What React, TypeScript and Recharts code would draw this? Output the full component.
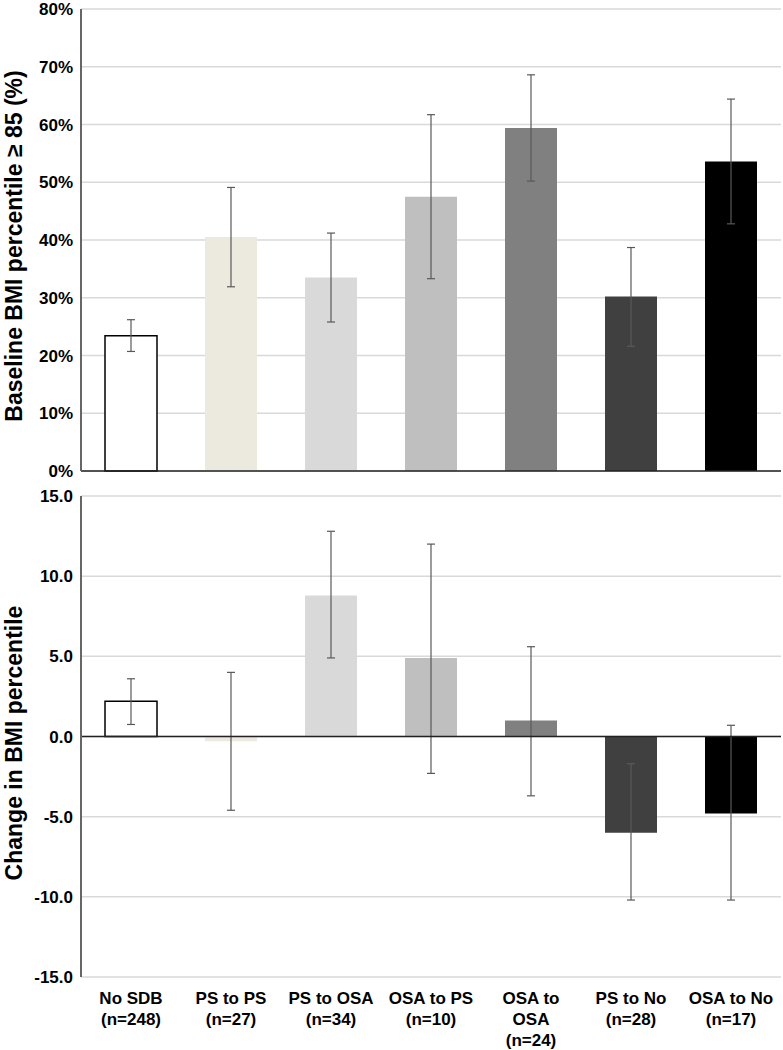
import React from "react";
import { BarChart, Bar, XAxis, YAxis, CartesianGrid, Cell, ErrorBar, ReferenceLine } from "recharts";

const categories = ["No SDB|(n=248)", "PS to PS|(n=27)", "PS to OSA|(n=34)", "OSA to PS|(n=10)", "OSA to|OSA|(n=24)", "PS to No|(n=28)", "OSA to No|(n=17)"];
const colors = ["#ffffff", "#eceadf", "#d9d9d9", "#bfbfbf", "#808080", "#404040", "#000000"];

const baselinePct = [23.4, 40.5, 33.5, 47.5, 59.4, 30.2, 53.6];
const baselineLow = [20.7, 31.9, 25.8, 33.3, 50.2, 21.6, 42.8];
const baselineHigh = [26.2, 49.1, 41.2, 61.7, 68.6, 38.7, 64.4];

const change = [2.2, -0.3, 8.8, 4.9, 1.0, -6.0, -4.8];
const changeLow = [0.75, -4.6, 4.9, -2.3, -3.7, -10.2, -10.2];
const changeHigh = [3.6, 4.0, 12.8, 12.0, 5.6, -1.7, 0.7];

const topTicks = [0, 10, 20, 30, 40, 50, 60, 70, 80];
const bottomTicks = [-15, -10, -5, 0, 5, 10, 15];

const topData = categories.map((name, i) => ({
  name,
  value: baselinePct[i],
  err: [baselinePct[i] - baselineLow[i], baselineHigh[i] - baselinePct[i]],
}));

const bottomData = categories.map((name, i) => ({
  name,
  value: change[i],
  err: [change[i] - changeLow[i], changeHigh[i] - change[i]],
}));

const FONT = "'Liberation Sans', Arial, sans-serif";

const CategoryTick = (props: any) => {
  const { x, y, payload } = props;
  const lines = String(payload.value).split("|");
  return (
    <text x={x} y={y + 19} textAnchor="middle" fontFamily={FONT} fontWeight="bold" fontSize={17} fill="#000">
      {lines.map((l, i) => (
        <tspan key={i} x={x} dy={i === 0 ? 0 : 21}>
          {l}
        </tspan>
      ))}
    </text>
  );
};

const AxisTitle = ({ y, text }: { y: number; text: string }) => (
  <text
    x={14}
    y={y}
    transform={`rotate(-90, 14, ${y})`}
    textAnchor="middle"
    dominantBaseline="central"
    fontFamily={FONT}
    fontWeight="bold"
    fontSize={23}
    fill="#000"
  >
    {text}
  </text>
);

const tickStyle = { fontFamily: FONT, fontWeight: "bold", fontSize: 17, fill: "#000" };

export default function App() {
  return (
    <div style={{ position: "absolute", left: 0, top: 0, width: 783, height: 1050, background: "#fff" }}>
      <div style={{ position: "absolute", left: 0, top: 0 }}>
        <BarChart width={783} height={480} data={topData} margin={{ top: 9, right: 2, bottom: 9, left: 0 }} barSize={52}>
          <CartesianGrid horizontal={true} vertical={false} stroke="#d9d9d9" strokeWidth={1.5} />
          <XAxis dataKey="name" hide />
          <YAxis
            width={81}
            domain={[0, 80]}
            ticks={topTicks}
            interval={0}
            tickFormatter={(v: number) => `${v}%`}
            tick={tickStyle}
            tickLine={false}
            axisLine={{ stroke: "#666", strokeWidth: 2 }}
          />
          <Bar dataKey="value" isAnimationActive={false}>
            {topData.map((_, i) => (
              <Cell key={i} fill={colors[i]} stroke={i === 0 ? "#000" : "none"} strokeWidth={1.5} />
            ))}
            <ErrorBar dataKey="err" width={4} stroke="#595959" strokeWidth={1.2} direction="y" />
          </Bar>
          <ReferenceLine y={0} stroke="#222" strokeWidth={1.5} />
        </BarChart>
      </div>
      <div style={{ position: "absolute", left: 0, top: 480 }}>
        <BarChart width={783} height={570} data={bottomData} margin={{ top: 16, right: 2, bottom: 0, left: 0 }} barSize={52}>
          <CartesianGrid horizontal={true} vertical={false} stroke="#d9d9d9" strokeWidth={1.5} />
          <XAxis dataKey="name" height={73} axisLine={false} tickLine={false} tick={<CategoryTick />} interval={0} />
          <YAxis
            width={81}
            domain={[-15, 15]}
            ticks={bottomTicks}
            interval={0}
            tickFormatter={(v: number) => v.toFixed(1)}
            tick={tickStyle}
            tickLine={false}
            axisLine={{ stroke: "#666", strokeWidth: 2 }}
          />
          <Bar dataKey="value" isAnimationActive={false}>
            {bottomData.map((_, i) => (
              <Cell key={i} fill={colors[i]} stroke={i === 0 ? "#000" : "none"} strokeWidth={1.5} />
            ))}
            <ErrorBar dataKey="err" width={4} stroke="#595959" strokeWidth={1.2} direction="y" />
          </Bar>
          <ReferenceLine y={0} stroke="#222" strokeWidth={1.5} />
        </BarChart>
      </div>
      <svg width={40} height={1050} style={{ position: "absolute", left: 0, top: 0 }}>
        <AxisTitle y={246} text="Baseline BMI percentile ≥ 85 (%)" />
        <AxisTitle y={743} text="Change in BMI percentile" />
      </svg>
    </div>
  );
}
